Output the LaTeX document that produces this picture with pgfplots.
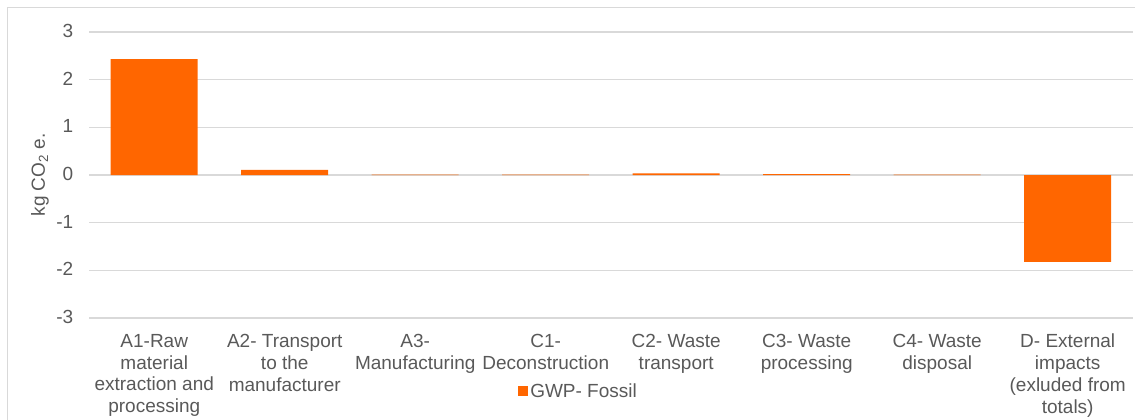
\documentclass[border=0pt]{standalone}
\usepackage{fontspec}
\setmainfont{Liberation Sans}
\usepackage{pgfplots}
\pgfplotsset{compat=1.18}
\definecolor{barorange}{HTML}{FF6600}
\definecolor{gridgray}{HTML}{D9D9D9}
\definecolor{txtgray}{HTML}{595959}
\newcommand{\lbl}{\fontsize{19}{21.8}\selectfont}
\begin{document}
\begin{tikzpicture}[x=1pt,y=1pt]
\useasboundingbox (0,0) rectangle (1135,420);
\draw[gridgray, line width=1pt] (7,0) -- (7,412) -- (1135,412);
\begin{axis}[
  at={(89pt,102pt)}, anchor=south west,
  scale only axis, width=1044pt, height=286pt,
  xmin=-0.5, xmax=7.5, ymin=-3, ymax=3,
  axis line style={draw=none},
  major tick length=0pt,
  ymajorgrids, grid style={gridgray, line width=1.3pt},
  ytick={-3,-2,-1,0,1,2,3},
  yticklabels={-3,-2,-1,0,1,2,3},
  yticklabel style={font=\lbl, text=txtgray, inner sep=0pt, xshift=-15.5pt, yshift=1pt},
  xtick={0,...,7},
  xticklabels={{A1-Raw\\material\\extraction and\\processing},
               {A2- Transport\\to the\\manufacturer},
               {A3-\\Manufacturing},
               {C1-\\Deconstruction},
               {C2- Waste\\transport},
               {C3- Waste\\processing},
               {C4- Waste\\disposal},
               {D- External\\impacts\\(exluded from\\totals)}},
  xticklabel style={font=\lbl, text=txtgray, align=center, anchor=north, inner sep=0pt, yshift=-16pt},
  ylabel={kg CO\textsubscript{2} e.},
  ylabel style={at={(axis description cs:-0.047,0.5)}, anchor=center, font=\lbl, text=txtgray},
  legend style={at={(axis description cs:0.411,-0.255)}, anchor=west, draw=none, fill=none,
    font=\lbl, text=txtgray, inner sep=0pt, nodes={inner sep=2pt}},
]
\addplot[ybar, bar width=87pt, bar shift=0pt, fill=barorange, draw=none,
  legend image code/.code={\fill[barorange] (0pt,-5pt) rectangle (10pt,5pt);}]
  coordinates {(0,2.43) (1,0.11) (2,0.006) (3,0.006) (4,0.035) (5,0.02) (6,0.006) (7,-1.82)};
\addlegendentry{GWP- Fossil}
\end{axis}
\end{tikzpicture}
\end{document}
